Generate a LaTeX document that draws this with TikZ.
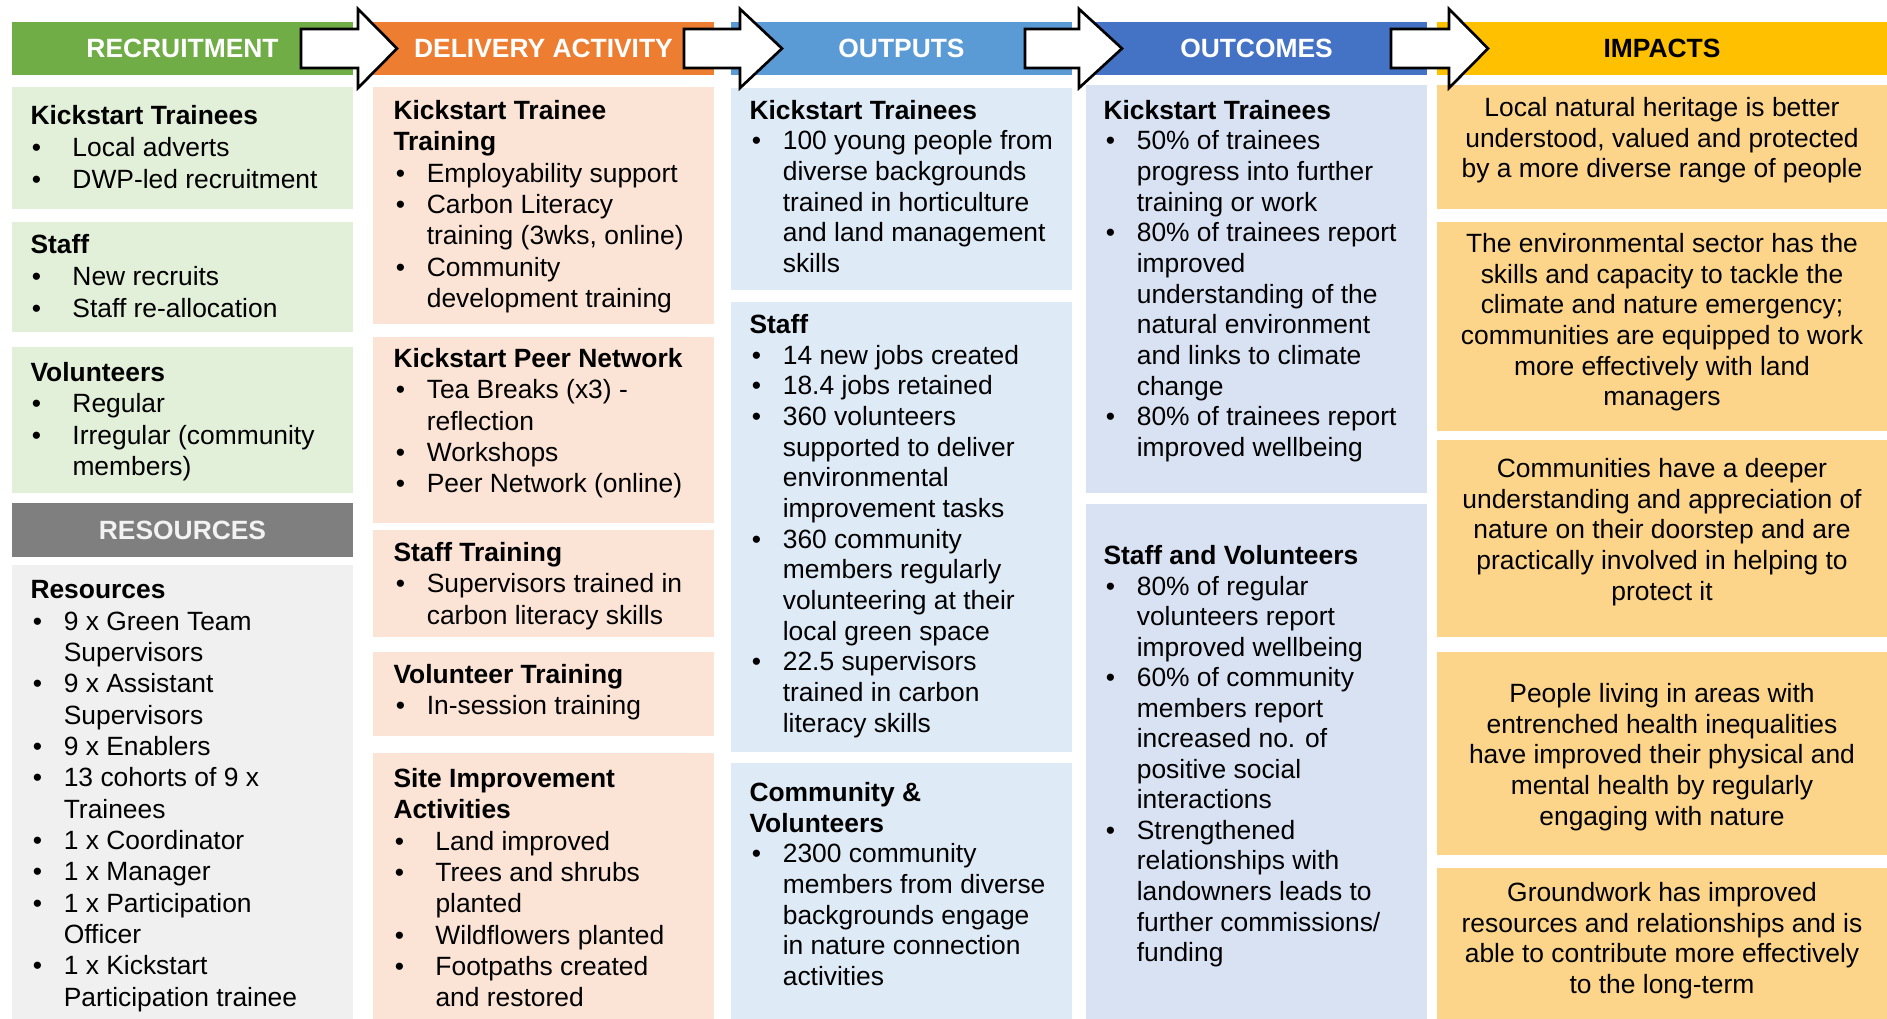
\documentclass[tikz,border=0pt]{standalone}
\usepackage{fontspec}
\setmainfont{Liberation Sans}

\tikzset{every picture/.style={line width=0.75pt}}
\tikzset{
  bodytext/.style={inner sep=0pt, anchor=north west, align=left, text=black, font=\fontsize{19.8}{23}\selectfont},
  widelines/.style={font=\fontsize{19.8}{23.5}\selectfont},
  tightlines/.style={font=\fontsize{19.8}{22.9}\selectfont},
  impacttext/.style={inner sep=0pt, anchor=north, align=center, text=black, font=\fontsize{19.8}{23}\selectfont},
  headtext/.style={inner sep=0pt, text=white, font=\fontsize{19.8}{23}\selectfont\bfseries},
  blockarrow/.style={draw=black, line width=2pt, fill=white, line join=miter},
  recfill/.style={fill={rgb, 255:red, 226; green, 239; blue, 217}},
  resfill/.style={fill={rgb, 255:red, 240; green, 240; blue, 240}},
  delfill/.style={fill={rgb, 255:red, 251; green, 228; blue, 213}},
  outfill/.style={fill={rgb, 255:red, 222; green, 234; blue, 246}},
  ocfill/.style={fill={rgb, 255:red, 217; green, 226; blue, 243}},
  impfill/.style={fill={rgb, 255:red, 252; green, 213; blue, 138}}
}

% bullets with hanging text
\newcommand{\blt}{\makebox[25pt][l]{\hspace{1.8pt}\textbullet}}
\newcommand{\bltw}{\makebox[31.5pt][l]{\hspace{1pt}\textbullet}}
\newcommand{\hng}{\hspace*{25pt}}
\newcommand{\hngw}{\hspace*{31.5pt}}

\begin{document}
\begin{tikzpicture}[x=0.75pt,y=0.75pt,yscale=-1,xscale=1]
	\useasboundingbox (0,0) rectangle (1887,1019);
	\fill [white] (0,0) rectangle (1887,1019);

	%Shape: Rectangle (header bars)
	\fill [fill={rgb, 255:red, 112; green, 173; blue, 71 }] (12,22) rectangle (353,75) ;
	\fill [fill={rgb, 255:red, 237; green, 125; blue, 49 }] (373,22) rectangle (714,75) ;
	\fill [fill={rgb, 255:red, 91; green, 155; blue, 213 }] (731,22) rectangle (1072,75) ;
	\fill [fill={rgb, 255:red, 68; green, 114; blue, 196 }] (1086,22) rectangle (1427,75) ;
	\fill [fill={rgb, 255:red, 255; green, 192; blue, 0 }] (1437,22) rectangle (1887,75) ;
	\fill [fill={rgb, 255:red, 127; green, 127; blue, 127 }] (12,503) rectangle (353,557) ;

	%Shape: Rectangle (recruitment)
	\fill [recfill] (12,87) rectangle (353,209) ;
	\fill [recfill] (12,222) rectangle (353,332) ;
	\fill [recfill] (12,347) rectangle (353,493) ;
	\fill [resfill] (12,565) rectangle (353,1019) ;
	%Shape: Rectangle (delivery activity)
	\fill [delfill] (373,87) rectangle (714,324) ;
	\fill [delfill] (373,337) rectangle (714,523) ;
	\fill [delfill] (373,530) rectangle (714,637) ;
	\fill [delfill] (373,652) rectangle (714,736) ;
	\fill [delfill] (373,753) rectangle (714,1019) ;
	%Shape: Rectangle (outputs)
	\fill [outfill] (731,88) rectangle (1072,290) ;
	\fill [outfill] (731,302) rectangle (1072,752) ;
	\fill [outfill] (731,763) rectangle (1072,1019) ;
	%Shape: Rectangle (outcomes)
	\fill [ocfill] (1086,85) rectangle (1427,493) ;
	\fill [ocfill] (1086,504) rectangle (1427,1019) ;
	%Shape: Rectangle (impacts)
	\fill [impfill] (1437,85) rectangle (1887,209) ;
	\fill [impfill] (1437,222) rectangle (1887,431) ;
	\fill [impfill] (1437,440) rectangle (1887,637) ;
	\fill [impfill] (1437,652) rectangle (1887,855) ;
	\fill [impfill] (1437,868) rectangle (1887,1019) ;

	%Right Arrow
	\draw [blockarrow] (301,29) -- (358,29) -- (358,9) -- (397,48.5) -- (358,88) -- (358,68) -- (301,68) -- cycle ;
	%Right Arrow
	\draw [blockarrow] (684,29) -- (740,29) -- (740,9) -- (782,48.5) -- (740,88) -- (740,68) -- (684,68) -- cycle ;
	%Right Arrow
	\draw [blockarrow] (1025,29) -- (1079,29) -- (1079,9) -- (1122,48.5) -- (1079,88) -- (1079,68) -- (1025,68) -- cycle ;
	%Right Arrow
	\draw [blockarrow] (1391,29) -- (1449,29) -- (1449,9) -- (1488,48.5) -- (1449,88) -- (1449,68) -- (1391,68) -- cycle ;

	% Text Node
	\node [headtext] (recHead) at (182.5,48.5) {RECRUITMENT};
	% Text Node
	\node [headtext] (delHead) at (543.5,48.5) {DELIVERY ACTIVITY};
	% Text Node
	\node [headtext] (outHead) at (901.5,48.5) {OUTPUTS};
	% Text Node
	\node [headtext] (ocHead) at (1256.5,48.5) {OUTCOMES};
	% Text Node
	\node [headtext, text=black] (impHead) at (1662,48.5) {IMPACTS};
	% Text Node
	\node [headtext, text={rgb, 255:red, 242; green, 242; blue, 242}] (resHead) at (182.5,530) {RESOURCES};

	% Text Node
	\node [bodytext, font=\fontsize{19.8}{24}\selectfont] (rec1) at (30,105) {\textbf{Kickstart Trainees}\\
		\bltw Local adverts\\
		\bltw DWP-led recruitment};
	% Text Node
	\node [bodytext, font=\fontsize{19.8}{24}\selectfont] (rec2) at (30,234) {\textbf{Staff}\\
		\bltw New recruits\\
		\bltw Staff re-allocation};
	% Text Node
	\node [bodytext, widelines] (rec3) at (30,362) {\textbf{Volunteers}\\
		\bltw Regular\\
		\bltw Irregular (community\\
		\hngw members)};
	% Text Node
	\node [bodytext, widelines] (res1) at (30,580) {\textbf{Resources}\\
		\blt 9 x Green Team\\
		\hng Supervisors\\
		\blt 9 x Assistant\\
		\hng Supervisors\\
		\blt 9 x Enablers\\
		\blt 13 cohorts of 9 x\\
		\hng Trainees\\
		\blt 1 x Coordinator\\
		\blt 1 x Manager\\
		\blt 1 x Participation\\
		\hng Officer\\
		\blt 1 x Kickstart\\
		\hng Participation trainee};

	% Text Node
	\node [bodytext, widelines] (del1) at (393,100) {\textbf{Kickstart Trainee}\\
		\textbf{Training}\\
		\blt Employability support\\
		\blt Carbon Literacy\\
		\hng training (3wks, online)\\
		\blt Community\\
		\hng development training};
	% Text Node
	\node [bodytext, widelines] (del2) at (393,348) {\textbf{Kickstart Peer Network}\\
		\blt Tea Breaks (x3) -\\
		\hng reflection\\
		\blt Workshops\\
		\blt Peer Network (online)};
	% Text Node
	\node [bodytext, widelines] (del3) at (393,542) {\textbf{Staff Training}\\
		\blt Supervisors trained in\\
		\hng carbon literacy skills};
	% Text Node
	\node [bodytext, widelines] (del4) at (393,664) {\textbf{Volunteer Training}\\
		\blt In-session training};
	% Text Node
	\node [bodytext, widelines] (del5) at (393,768) {\textbf{Site Improvement}\\
		\textbf{Activities}\\
		\bltw Land improved\\
		\bltw Trees and shrubs\\
		\hngw planted\\
		\bltw Wildflowers planted\\
		\bltw Footpaths created\\
		\hngw and restored};

	% Text Node
	\node [bodytext] (out1) at (749,99.5) {\textbf{Kickstart Trainees}\\
		\blt 100 young people from\\
		\hng diverse backgrounds\\
		\hng trained in horticulture\\
		\hng and land management\\
		\hng skills};
	% Text Node
	\node [bodytext] (out2) at (749,314) {\textbf{Staff}\\
		\blt 14 new jobs created\\
		\blt 18.4 jobs retained\\
		\blt 360 volunteers\\
		\hng supported to deliver\\
		\hng environmental\\
		\hng improvement tasks\\
		\blt 360 community\\
		\hng members regularly\\
		\hng volunteering at their\\
		\hng local green space\\
		\blt 22.5 supervisors\\
		\hng trained in carbon\\
		\hng literacy skills};
	% Text Node
	\node [bodytext] (out3) at (749,782) {\textbf{Community \&}\\
		\textbf{Volunteers}\\
		\blt 2300 community\\
		\hng members from diverse\\
		\hng backgrounds engage\\
		\hng in nature connection\\
		\hng activities};

	% Text Node
	\node [bodytext] (oc1) at (1103,99.5) {\textbf{Kickstart Trainees}\\
		\blt 50\% of trainees\\
		\hng progress into further\\
		\hng training or work\\
		\blt 80\% of trainees report\\
		\hng improved\\
		\hng understanding of the\\
		\hng natural environment\\
		\hng and links to climate\\
		\hng change\\
		\blt 80\% of trainees report\\
		\hng improved wellbeing};
	% Text Node
	\node [bodytext, tightlines] (oc2) at (1103,545) {\textbf{Staff and Volunteers}\\
		\blt 80\% of regular\\
		\hng volunteers report\\
		\hng improved wellbeing\\
		\blt 60\% of community\\
		\hng members report\\
		\hng increased no. of\\
		\hng positive social\\
		\hng interactions\\
		\blt Strengthened\\
		\hng relationships with\\
		\hng landowners leads to\\
		\hng further commissions/\\
		\hng funding};

	% Text Node
	\node [impacttext] (imp1) at (1662,97) {Local natural heritage is better\\
		understood, valued and protected\\
		by a more diverse range of people};
	% Text Node
	\node [impacttext] (imp2) at (1662,233) {The environmental sector has the\\
		skills and capacity to tackle the\\
		climate and nature emergency;\\
		communities are equipped to work\\
		more effectively with land\\
		managers};
	% Text Node
	\node [impacttext] (imp3) at (1662,458) {Communities have a deeper\\
		understanding and appreciation of\\
		nature on their doorstep and are\\
		practically involved in helping to\\
		protect it};
	% Text Node
	\node [impacttext] (imp4) at (1662,683) {People living in areas with\\
		entrenched health inequalities\\
		have improved their physical and\\
		mental health by regularly\\
		engaging with nature};
	% Text Node
	\node [impacttext] (imp5) at (1662,882) {Groundwork has improved\\
		resources and relationships and is\\
		able to contribute more effectively\\
		to the long-term};

\end{tikzpicture}
\end{document}
